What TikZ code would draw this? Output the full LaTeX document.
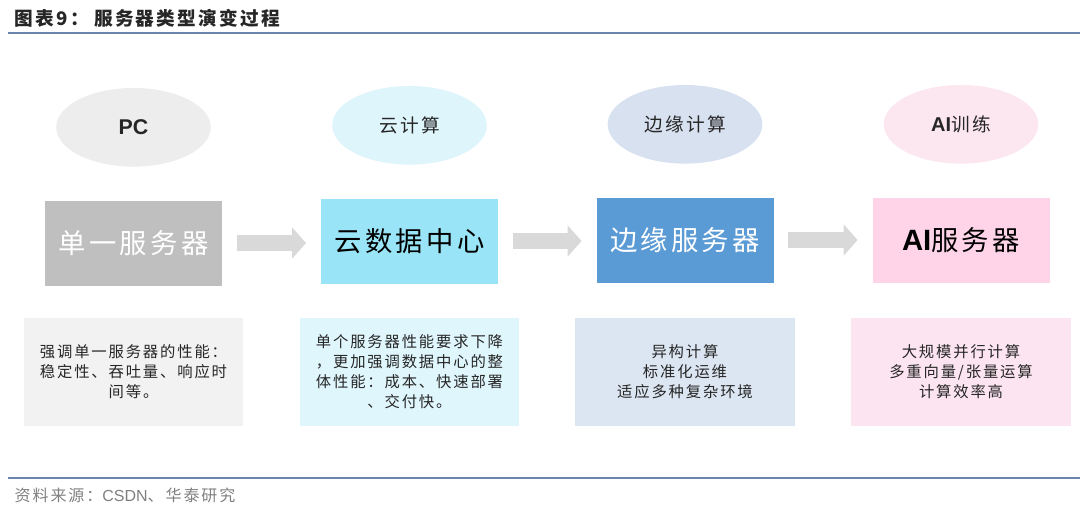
\documentclass[tikz,border=0pt]{standalone}
\usepackage{fontspec}
\setmainfont{Noto Sans CJK SC}[LetterSpace=12]
\newfontfamily\latinsans{Liberation Sans}
\usetikzlibrary{arrows.meta,positioning,shapes.geometric}
\definecolor{ruleblue}{RGB}{106,134,176}
\definecolor{textdark}{RGB}{38,38,38}
\definecolor{srcgray}{RGB}{128,128,128}
\definecolor{arrowgray}{RGB}{217,217,217}
% phase ellipses
\definecolor{pcell}{RGB}{237,237,237}
\definecolor{cloudell}{RGB}{222,245,252}
\definecolor{edgeell}{RGB}{216,225,240}
\definecolor{aiell}{RGB}{252,230,240}
% server boxes
\definecolor{singlefill}{RGB}{191,191,191}
\definecolor{cloudfill}{RGB}{153,229,247}
\definecolor{edgefill}{RGB}{91,155,213}
\definecolor{aifill}{RGB}{255,212,233}
% description boxes
\definecolor{singledesc}{RGB}{242,242,242}
\definecolor{clouddesc}{RGB}{223,246,253}
\definecolor{edgedesc}{RGB}{220,230,242}
\definecolor{aidesc}{RGB}{252,228,240}

\begin{document}
\begin{tikzpicture}[x=0.75pt, y=-0.75pt,
    srvbox/.style={rectangle, minimum width=132.75pt, minimum height=63.75pt, inner sep=0pt,
      font=\fontsize{20.5}{24}\selectfont},
    phase/.style={ellipse, minimum width=116pt, minimum height=59pt, inner sep=0pt,
      text=textdark, font=\fontsize{14}{16}\selectfont},
    descbox/.style={rectangle, minimum width=164.5pt, minimum height=81pt, inner sep=0pt,
      align=center, text=textdark, font=\fontsize{11.5}{15}\selectfont},
    flowarrow/.style={draw=arrowgray, line width=11.5pt, -{Triangle[width=23pt, length=10.5pt]},
      shorten <=11pt, shorten >=11pt},
    rule/.style={draw=ruleblue, line width=1.5pt}]
    \useasboundingbox (0,0) rectangle (1080,519);
    % Title and rule
    \node[anchor=west, text=textdark, font=\fontsize{14}{16}\selectfont\bfseries] (title) at (10,18)
      {图表9：\hspace{4pt}服务器类型演变过程};
    \draw[rule] (8,32.5) -- (1080,32.5);
    % Server boxes
    \node[srvbox, fill=singlefill, text=white] (single) at (133.5,243) {单一服务器};
    \node[srvbox, fill=cloudfill, text=black] (cloud) at (409.5,241) {云数据中心};
    \node[srvbox, fill=edgefill, text=white] (edge) at (685,240) {边缘服务器};
    \node[srvbox, fill=aifill, text=black] (ai) at (961,240)
      {{\latinsans\bfseries\fontsize{22}{24}\selectfont AI}服务器};
    % Phases
    \node[phase, fill=pcell, above=25pt of single] (pc)
      {\latinsans\bfseries\fontsize{16}{18}\selectfont PC};
    \node[phase, fill=cloudell, above=25pt of cloud] (cloudcomp) {云计算};
    \node[phase, fill=edgeell, above=25pt of edge] (edgecomp) {边缘计算};
    \node[phase, fill=aiell, above=25pt of ai] (aitrain)
      {{\latinsans\bfseries\fontsize{15}{16}\selectfont AI}训练};
    % Evolution arrows
    \draw[flowarrow] (single) -- (single -| cloud.west);
    \draw[flowarrow] (cloud) -- (cloud -| edge.west);
    \draw[flowarrow] (edge) -- (ai);
    % Descriptions
    \node[descbox, fill=singledesc, below=24pt of single] (singletxt)
      {强调单一服务器的性能：\\稳定性、吞吐量、响应时\\间等。};
    \node[descbox, fill=clouddesc, below=25.5pt of cloud] (cloudtxt)
      {单个服务器性能要求下降\\，更加强调数据中心的整\\体性能：成本、快速部署\\、交付快。};
    \node[descbox, fill=edgedesc, below=26pt of edge] (edgetxt)
      {异构计算\\标准化运维\\适应多种复杂环境};
    \node[descbox, fill=aidesc, below=26pt of ai] (aitxt)
      {大规模并行计算\\多重向量/张量运算\\计算效率高};
    % Source
    \draw[rule] (8,478) -- (1080,478);
    \node[anchor=west, text=srcgray, font=\fontsize{12}{14}\selectfont] (source) at (10,495)
      {资料来源：{\latinsans CSDN}、华泰研究};
\end{tikzpicture}
\end{document}
